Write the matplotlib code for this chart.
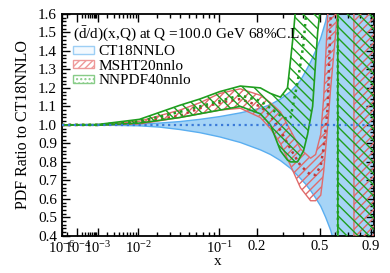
import numpy as np
import matplotlib
matplotlib.use('Agg')
import matplotlib.pyplot as plt
from matplotlib.patches import Patch

plt.rcParams['font.family'] = ['Liberation Serif', 'DejaVu Serif']
plt.rcParams['mathtext.fontset'] = 'custom'
plt.rcParams['mathtext.rm'] = 'Liberation Serif'
plt.rcParams['mathtext.it'] = 'Liberation Serif:italic'
plt.rcParams['mathtext.bf'] = 'Liberation Serif:bold'
plt.rcParams['hatch.linewidth'] = 1.0

# ---------------- data (ratio to CT18NNLO central) ----------------
x_ct = [1e-6, 1e-3, 0.0105, 0.0217, 0.0395, 0.0654, 0.101, 0.150, 0.212, 0.249,
        0.290, 0.336, 0.386, 0.414, 0.442, 0.472, 0.504, 0.536, 0.570, 0.606, 0.643, 0.93]
ct_c = [1.0] * 22
ct_up = [1.0, 1.001, 1.005, 1.01, 1.018, 1.03, 1.045, 1.065, 1.09, 1.11,
         1.14, 1.18, 1.24, 1.29, 1.34, 1.40, 1.47, 1.56, 1.70, 1.9, 2.2, 3.0]
ct_lo = [1.0, 0.999, 0.995, 0.988, 0.975, 0.958, 0.935, 0.905, 0.865, 0.84,
         0.807, 0.765, 0.71, 0.68, 0.645, 0.605, 0.56, 0.50, 0.43, 0.33, 0.15, -1.0]

x_ms = [1e-6, 1e-3, 0.0105, 0.0395, 0.0654, 0.101, 0.150, 0.212, 0.249, 0.290,
        0.336, 0.386, 0.442, 0.472, 0.504, 0.523, 0.550, 0.570, 0.606, 0.621,
        0.7475, 0.7485, 0.93]
ms_c = [1.0, 1.0, 1.012, 1.05, 1.09, 1.12, 1.14, 1.10, 1.05, 0.97,
        0.87, 0.78, 0.73, 0.73, 0.78, 0.88, 1.1, 1.6, 2.2, 2.5,
        2.5, 2.5, 2.5]
ms_up = [1.0, 1.001, 1.02, 1.08, 1.12, 1.17, 1.195, 1.16, 1.12, 1.07,
         0.97, 0.87, 0.82, 0.84, 0.95, 1.15, 1.6, 2.0, 2.5, 3.0,
         3.0, 3.0, 3.0]
ms_lo = [1.0, 0.999, 1.005, 1.04, 1.06, 1.08, 1.09, 1.04, 0.98, 0.90,
         0.78, 0.66, 0.59, 0.59, 0.62, 0.75, 1.0, 1.2, 1.5, 1.65,
         2.0, -1.0, -1.0]

x_nn = [1e-6, 1e-3, 0.0105, 0.0395, 0.0654, 0.101, 0.150, 0.212, 0.249, 0.290,
        0.3215, 0.336, 0.3504, 0.3707, 0.386, 0.4026, 0.425, 0.454, 0.4844, 0.55,
        0.6206, 0.6216, 0.93]
nn_c = [1.0, 1.0, 1.02, 1.07, 1.10, 1.13, 1.16, 1.13, 1.09, 1.05,
        1.03, 1.04, 1.12, 1.23, 1.33, 1.44, 1.7, 2.0, 2.3, 2.5,
        2.5, -1.0, -1.0]
nn_up = [1.0, 1.002, 1.03, 1.106, 1.14, 1.18, 1.21, 1.20, 1.17, 1.15,
         1.20, 1.35, 1.5, 1.75, 2.0, 2.3, 2.5, 2.8, 3.0, 3.0,
         3.0, 3.0, 3.0]
nn_lo = [1.0, 0.998, 1.01, 1.04, 1.06, 1.08, 1.10, 1.06, 1.0, 0.86,
         0.81, 0.80, 0.80, 0.80, 0.83, 0.86, 0.95, 1.1, 1.5, 2.0,
         2.2, -1.0, -1.0]

xticks = [1e-6, 1e-4, 1e-3, 1e-2, 0.1, 0.2, 0.5, 0.9]
xticklabels = ['$10^{-6}$', '$10^{-4}$', '$10^{-3}$', '$10^{-2}$', '$10^{-1}$', '0.2', '0.5', '0.9']
xminor = [1e-5] + [k * 10.0 ** n for n in (-4, -3, -2) for k in range(2, 10)] + [0.3, 0.4, 0.6, 0.7, 0.8]
yticks = [0.4, 0.5, 0.6, 0.7, 0.8, 0.9, 1.0, 1.1, 1.2, 1.3, 1.4, 1.5, 1.6]

title = r'($\bar{\rm d}$/d)(x,Q) at Q =100.0 GeV 68%C.L.'

# ---------------- plot ----------------
fig = plt.figure(figsize=(3.9, 2.73), dpi=100)
ax = fig.add_axes([0.159, 0.136, 0.8, 0.813])

fwd = lambda v: np.power(np.clip(v, 1e-12, None), 0.3)
inv = lambda v: np.power(np.clip(v, 0, None), 1 / 0.3)
ax.set_xscale('function', functions=(fwd, inv))

blue_fill = '#a6d4f6'
blue_edge = '#5aaef0'
red = '#e06b6b'
red_c = '#c03a3a'
green = '#1f9e1f'

ax.fill_between(x_ct, ct_lo, ct_up, facecolor=blue_fill, edgecolor='none', zorder=1)
ax.plot(x_ct, ct_up, color=blue_edge, lw=1.0, zorder=2)
ax.plot(x_ct, ct_lo, color=blue_edge, lw=1.0, zorder=2)

ax.fill_between(x_ms, ms_lo, ms_up, facecolor='none', edgecolor=red, hatch='////', linewidth=0, zorder=3)
ax.plot(x_ms, ms_up, color=red, lw=1.0, zorder=3)
ax.plot(x_ms, ms_lo, color=red, lw=1.0, zorder=3)
ax.plot(x_ms, ms_c, color=red_c, lw=1.8, ls=':', zorder=4)

ax.fill_between(x_nn, nn_lo, nn_up, facecolor='none', edgecolor=green, hatch='\\\\\\', linewidth=0, zorder=5)
ax.plot(x_nn, nn_up, color=green, lw=1.2, zorder=5)
ax.plot(x_nn, nn_lo, color=green, lw=1.2, zorder=5)
ax.plot(x_nn, nn_c, color=green, lw=1.8, ls=':', zorder=6)

ax.plot(x_ct, ct_c, color='#3a7ad8', lw=1.6, ls=':', zorder=7)

ax.set_xlim(1e-6, 0.93)
ax.set_ylim(0.4, 1.6)
ax.set_xticks(xticks)
ax.set_xticklabels(xticklabels)
ax.set_xticks(xminor, minor=True)
ax.set_yticks(yticks)
ax.set_yticks(np.arange(0.4, 1.6001, 0.02), minor=True)
ax.tick_params(which='both', direction='in', top=True, right=True, width=1.0)
ax.tick_params(axis='y', labelsize=11)
ax.tick_params(axis='x', labelsize=10.5, pad=3)
ax.tick_params(which='major', length=6)
ax.tick_params(which='minor', length=3)
for s in ax.spines.values():
    s.set_linewidth(1.3)

ax.set_ylabel('PDF Ratio to CT18NNLO', fontsize=11.5, labelpad=5)
ax.set_xlabel('x', fontsize=11, labelpad=-1)

handles = [Patch(facecolor='#f3f9fe', edgecolor='#9dcff5', label='CT18NNLO'),
           Patch(facecolor='white', edgecolor='#ee9999', hatch='/////', label='MSHT20nnlo'),
           Patch(facecolor='white', edgecolor='#88cc88', hatch='....', label='NNPDF40nnlo')]
leg = ax.legend(handles=handles, loc='upper left', title=title, frameon=False,
                fontsize=11, title_fontsize=11, handlelength=1.4, handleheight=0.45,
                labelspacing=0.1, borderaxespad=0.3, borderpad=0.4,
                handletextpad=0.3, alignment='left')
leg.set_zorder(10)

fig.savefig('out.png', dpi=100)
